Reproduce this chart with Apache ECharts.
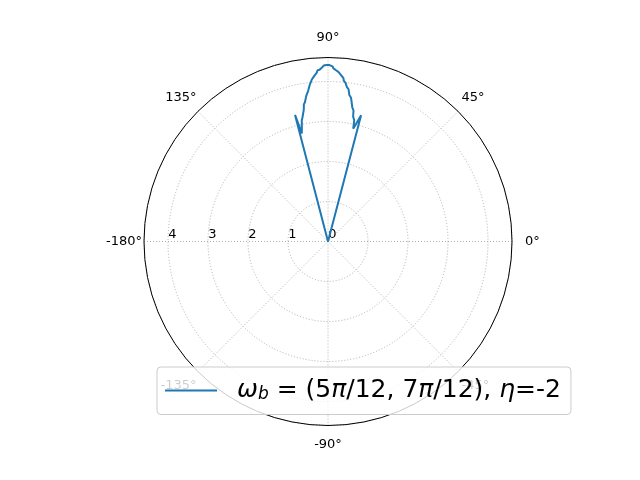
<!DOCTYPE html>
<html>
<head>
<meta charset="utf-8">
<script src="https://cdn.jsdelivr.net/npm/echarts@6/dist/echarts.min.js"></script>
<style>
  html, body { margin: 0; padding: 0; background: #fff; }
  #main { width: 640px; height: 480px; }
</style>
</head>
<body>
<div id="main"></div>
<script>
// 角度（度，0° 在右侧，逆时针）与半径，读自参考图
const thetaDeg = [
  0, 75.0, 75.3, 77.4, 77.8, 78.6, 79.0, 79.7, 80.2, 80.6, 80.9, 81.7, 82.1,
  82.3, 83.0, 83.5, 83.7, 84.4, 84.6, 85.2, 85.6, 86.3, 86.5, 87.2, 87.5,
  88.2, 88.5, 89.1, 89.5, 90.0, 90.5, 90.9, 91.4, 92.0, 92.4, 92.8, 93.5,
  93.8, 94.4, 94.8, 95.4, 95.7, 96.3, 96.6, 97.2, 97.5, 98.2, 98.5, 99.1,
  99.4, 100.0, 100.4, 101.1, 101.6, 102.2, 103.6, 104.6, 105.0, 360
];
const radius = [
  0, 0, 3.26, 2.89, 3.10, 3.18, 3.34, 3.40, 3.50, 3.52, 3.64, 3.70, 3.72,
  3.84, 3.89, 3.92, 3.99, 4.04, 4.10, 4.13, 4.18, 4.20, 4.25, 4.28, 4.32,
  4.33, 4.38, 4.36, 4.41, 4.37, 4.41, 4.37, 4.40, 4.35, 4.33, 4.30, 4.29,
  4.23, 4.22, 4.15, 4.13, 4.07, 4.03, 3.95, 3.92, 3.80, 3.76, 3.68, 3.64,
  3.53, 3.48, 3.35, 3.31, 3.17, 3.10, 2.78, 3.27, 0, 0
];
const seriesName = 'ωb = (5π/12, 7π/12), η=-2';
const angleTicks = [-180, -135, -90, -45, 0, 45, 90, 135];
const radiusTicks = [0, 1, 2, 3, 4];

const chart = echarts.init(document.getElementById('main'), null, { renderer: 'canvas' });

const font = 'DejaVu Sans';
const gridStyle = { color: '#b0b0b0', width: 1, type: [1, 2] };

// 每个角度标签的内边距，让文字中心落在同一半径上（matplotlib 的居中方式）
const labelPad = {
  '-180': [0, 0, 0, 0],
  '-135': [6, 0, 0, 0],
  '-90': [11, 0, 0, 0],
  '-45': [6, 0, 0, 2],
  '0': [0, 0, 0, 11],
  '45': [0, 0, 6, 2],
  '90': [0, 0, 11, 0],
  '135': [0, 0, 6, 0]
};
const angleRich = {};
angleTicks.forEach((t, i) => {
  angleRich['a' + i] = { fontSize: 13, fontFamily: font, color: '#000', padding: labelPad[String(t)] };
});

const option = {
  animation: false,
  backgroundColor: '#fff',
  polar: {
    center: [328, 241.5],
    radius: 184
  },
  angleAxis: {
    type: 'value',
    min: 0,
    max: 360,
    interval: 45,
    startAngle: 180, // 从 -180° 开始，半径标签才在左边
    clockwise: false,
    axisLine: { show: true, lineStyle: { color: '#000', width: 1 } },
    axisTick: { show: false },
    axisLabel: {
      color: '#000',
      fontSize: 13,
      fontFamily: font,
      margin: 2,
      rich: angleRich,
      formatter: v => {
        const k = angleTicks.indexOf(v - 180);
        return k >= 0 ? '{a' + k + '|' + angleTicks[k] + '°}' : '';
      }
    },
    splitLine: { show: true, lineStyle: gridStyle }
  },
  radiusAxis: {
    type: 'value',
    min: 0,
    max: 4.6,
    interval: 1,
    axisLine: { show: false },
    axisTick: { show: false },
    axisLabel: {
      color: '#000',
      fontSize: 13,
      fontFamily: font,
      margin: 0,
      align: 'center',
      verticalAlign: 'bottom',
      padding: [0, 0, 0, 9],
      showMaxLabel: false,
      formatter: v => radiusTicks.indexOf(v) >= 0 ? String(v) : ''
    },
    splitLine: { show: true, lineStyle: gridStyle }
  },
  legend: {
    left: 157,
    top: 367,
    orient: 'horizontal',
    padding: [11, 10, 11, 8],
    icon: 'rect',
    itemWidth: 52,
    itemHeight: 2,
    backgroundColor: 'rgba(255,255,255,0.8)',
    borderColor: '#cccccc',
    borderWidth: 1,
    borderRadius: 4,
    data: [{ name: seriesName }],
    formatter: () => '{i|ω}{s|b} = (5{i|π}/12, 7{i|π}/12), {i|η}=-2',
    textStyle: {
      color: '#000',
      fontSize: 25,
      fontFamily: font,
      padding: [0, 0, 0, 15],
      rich: {
        i: { fontSize: 25, fontFamily: font, fontStyle: 'italic', color: '#000' },
        s: { fontSize: 17, fontFamily: font, fontStyle: 'italic', color: '#000', verticalAlign: 'bottom', padding: [9, 0, 0, 0] }
      }
    }
  },
  series: [
    {
      name: seriesName,
      type: 'line',
      coordinateSystem: 'polar',
      symbol: 'none',
      data: thetaDeg.map((t, i) => [radius[i], (t + 180) % 360]),
      lineStyle: { color: '#1f77b4', width: 2 },
      itemStyle: { color: '#1f77b4' }
    }
  ]
};

chart.setOption(option);
</script>
</body>
</html>
